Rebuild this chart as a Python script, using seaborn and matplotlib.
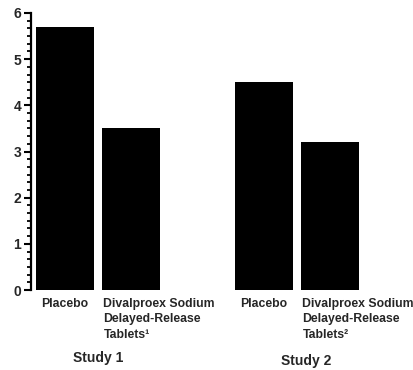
import matplotlib
matplotlib.use('Agg')
import matplotlib.pyplot as plt
import matplotlib.transforms as mtransforms
from matplotlib.ticker import AutoMinorLocator, MultipleLocator
import pandas as pd
import seaborn as sns

studies = ['Study 1', 'Study 1', 'Study 2', 'Study 2']
treatments = ['Placebo', 'Divalproex', 'Placebo', 'Divalproex']
values = [5.7, 3.5, 4.5, 3.2]
tick_labels = [
    'Placebo',
    'Divalproex Sodium\nDelayed-Release\nTablets\u00b9',
    '',
    'Placebo',
    'Divalproex Sodium\nDelayed-Release\nTablets\u00b2',
]
group_labels = ['Study 1', 'Study 2']

df = pd.DataFrame({'study': studies, 'treatment': treatments, 'value': values})
df['key'] = df['study'] + ' ' + df['treatment']
order = list(df['key'][:2]) + ['gap'] + list(df['key'][2:])

sns.set_style('white')
plt.rcParams['font.family'] = ['Liberation Sans Narrow', 'Liberation Sans', 'DejaVu Sans']
plt.rcParams['font.weight'] = 'bold'

fig = plt.figure(figsize=(4.14, 3.70), dpi=100)
ax = fig.add_axes([31 / 414, 80 / 370, 383 / 414, 277 / 370])

sns.barplot(
    data=df, x='key', y='value', order=order,
    color='black', saturation=1, width=0.875, linewidth=0, ax=ax
)

ax.set_ylim(0, 6)
ax.set_xlim(-0.513, 5.26)
ax.yaxis.set_major_locator(MultipleLocator(1))
ax.yaxis.set_minor_locator(AutoMinorLocator(6))
ax.set_xlabel('')
ax.set_ylabel('')

for side in ['top', 'right', 'bottom']:
    ax.spines[side].set_visible(False)
ax.spines['left'].set_linewidth(1.6)
ax.spines['left'].set_color('black')

ax.tick_params(axis='y', which='major', left=True, length=5, width=1.5,
               color='black', pad=2, labelsize=10)
ax.tick_params(axis='y', which='minor', left=True, length=3, width=1.3, color='black')
for lab in ax.get_yticklabels():
    lab.set_fontweight('bold')

ax.set_xticks(range(len(tick_labels)))
ax.set_xticklabels(tick_labels, fontsize=8.8, fontweight='bold', va='top',
                   linespacing=1.35)
ax.tick_params(axis='x', length=0, pad=6)
for lab in ax.get_xticklabels():
    if lab.get_text().startswith('Divalproex'):
        lab.set_horizontalalignment('left')
        lab.set_multialignment('left')
        lab.set_transform(lab.get_transform()
                          + mtransforms.ScaledTranslation(-28 / 100, 0, fig.dpi_scale_trans))

trans = mtransforms.blended_transform_factory(ax.transData, ax.transAxes)
ax.text(0.5, -0.245, group_labels[0], transform=trans, ha='center', va='center',
        fontsize=10, fontweight='bold')
ax.text(3.63, -0.256, group_labels[1], transform=trans, ha='center', va='center',
        fontsize=10, fontweight='bold')

fig.savefig('out.png', dpi=100)
plt.close(fig)
